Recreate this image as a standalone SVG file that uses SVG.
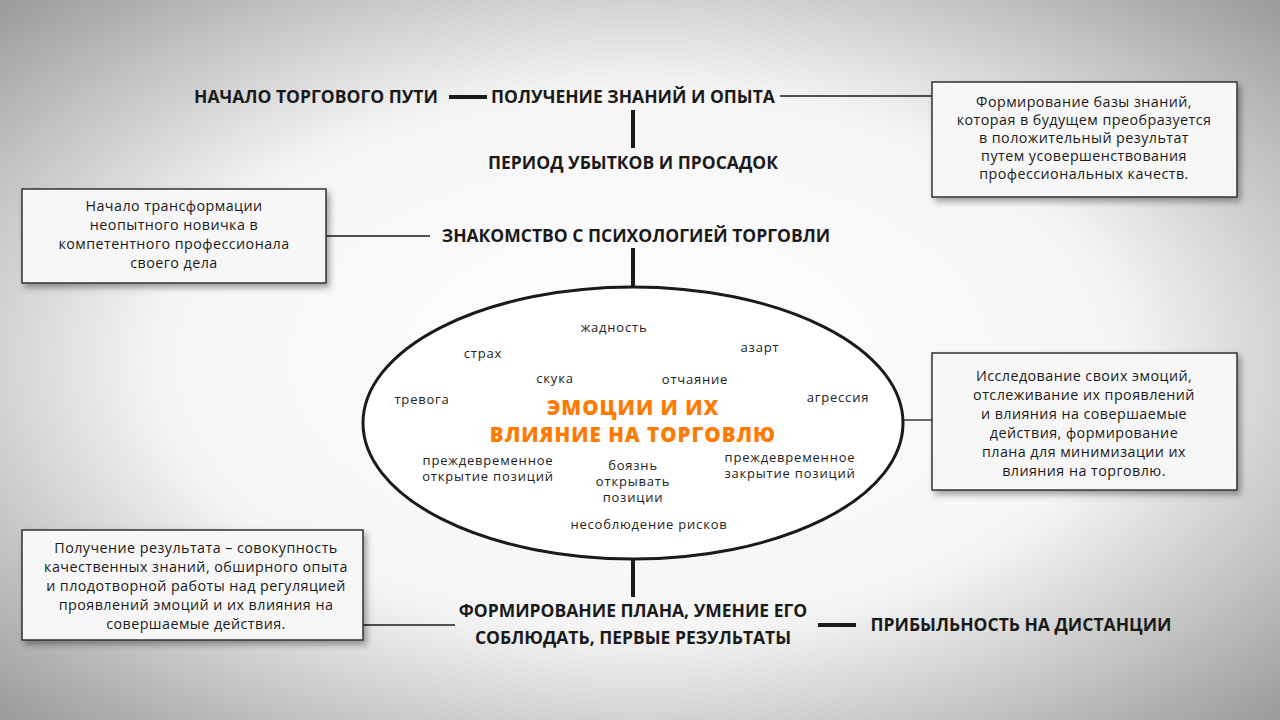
<svg xmlns="http://www.w3.org/2000/svg" width="1280" height="720" viewBox="0 0 1280 720">
<defs>
<radialGradient id="bg" cx="50%" cy="50%" r="75%">
<stop offset="0" stop-color="#ffffff"/><stop offset="0.5" stop-color="#f5f5f5"/><stop offset="1" stop-color="#8e8e8e"/>
</radialGradient>
<filter id="sh" x="-10%" y="-10%" width="130%" height="140%"><feDropShadow dx="3" dy="4" stdDeviation="3" flood-color="#000" flood-opacity="0.35"/></filter>
</defs>
<style>
.h{font-family:"Open Sans","DejaVu Sans",sans-serif;font-weight:700;font-size:17.5px;fill:#1a1a1a;text-anchor:middle}
.b{font-family:"Open Sans","DejaVu Sans",sans-serif;font-size:14.3px;letter-spacing:0.45px;fill:#1a1a1a;text-anchor:middle}
.e{font-family:"Open Sans","DejaVu Sans",sans-serif;font-size:13px;letter-spacing:0.8px;fill:#222;text-anchor:middle}
.o{font-family:"Open Sans","DejaVu Sans",sans-serif;font-weight:800;font-size:20.5px;letter-spacing:1px;fill:#ff7a00;text-anchor:middle}
.box{fill:#f7f7f7;stroke:#333;stroke-width:1.5;filter:url(#sh)}
.thick{stroke:#1a1a1a;stroke-width:4}
.thin{stroke:#1a1a1a;stroke-width:1.3}
</style>
<rect width="1280" height="720" fill="url(#bg)"/>
<g id="connectors" fill="none">
<line class="thick" x1="449" y1="97" x2="487" y2="97"/>
<line class="thin" x1="780" y1="96" x2="932" y2="96"/>
<line class="thick" x1="633" y1="110" x2="633" y2="148"/>
<line class="thin" x1="326" y1="236" x2="430" y2="236"/>
<line class="thick" x1="633" y1="248" x2="633" y2="287"/>
<line class="thin" x1="903" y1="420" x2="932" y2="420"/>
<line class="thick" x1="633" y1="559" x2="633" y2="597"/>
<line class="thin" x1="363" y1="625" x2="455" y2="625"/>
<line class="thick" x1="818" y1="625" x2="856" y2="625"/>
</g>
<g id="n-start"><text class="h" x="316" y="103">НАЧАЛО ТОРГОВОГО ПУТИ</text></g>
<g id="n-knowledge"><text class="h" x="633" y="103">ПОЛУЧЕНИЕ ЗНАНИЙ И ОПЫТА</text></g>
<g id="n-losses"><text class="h" x="633" y="169">ПЕРИОД УБЫТКОВ И ПРОСАДОК</text></g>
<g id="n-psych"><text class="h" x="636" y="242">ЗНАКОМСТВО С ПСИХОЛОГИЕЙ ТОРГОВЛИ</text></g>
<g id="n-plan"><text class="h" x="633" y="617">ФОРМИРОВАНИЕ ПЛАНА, УМЕНИЕ ЕГО</text><text class="h" x="633" y="644">СОБЛЮДАТЬ, ПЕРВЫЕ РЕЗУЛЬТАТЫ</text></g>
<g id="n-profit"><text class="h" x="1021" y="631">ПРИБЫЛЬНОСТЬ НА ДИСТАНЦИИ</text></g>
<g id="box-tr"><rect class="box" x="932" y="82" width="305" height="115"/>
<text class="b" x="1084" y="107">Формирование базы знаний,</text><text class="b" x="1084" y="125">которая в будущем преобразуется</text><text class="b" x="1084" y="143">в положительный результат</text><text class="b" x="1084" y="161">путем усовершенствования</text><text class="b" x="1084" y="179">профессиональных качеств.</text></g>
<g id="box-l"><rect class="box" x="22" y="189" width="304" height="94"/>
<text class="b" x="174" y="211">Начало трансформации</text><text class="b" x="174" y="230">неопытного новичка в</text><text class="b" x="174" y="249">компетентного профессионала</text><text class="b" x="174" y="268">своего дела</text></g>
<g id="box-r"><rect class="box" x="932" y="353" width="305" height="137"/>
<text class="b" x="1084" y="381">Исследование своих эмоций,</text><text class="b" x="1084" y="400">отслеживание их проявлений</text><text class="b" x="1084" y="419">и влияния на совершаемые</text><text class="b" x="1084" y="438">действия, формирование</text><text class="b" x="1084" y="457">плана для минимизации их</text><text class="b" x="1084" y="476">влияния на торговлю.</text></g>
<g id="box-bl"><rect class="box" x="22" y="530" width="341" height="110"/>
<text class="b" x="196" y="553">Получение результата – совокупность</text><text class="b" x="196" y="572">качественных знаний, обширного опыта</text><text class="b" x="196" y="591">и плодотворной работы над регуляцией</text><text class="b" x="196" y="610">проявлений эмоций и их влияния на</text><text class="b" x="196" y="629">совершаемые действия.</text></g>
<g id="emotions">
<ellipse cx="633" cy="423" rx="270" ry="136" fill="#ffffff" stroke="#1a1a1a" stroke-width="3"/>
<text class="e" x="614" y="332">жадность</text>
<text class="e" x="483" y="358">страх</text>
<text class="e" x="760" y="352">азарт</text>
<text class="e" x="555" y="383">скука</text>
<text class="e" x="695" y="384">отчаяние</text>
<text class="e" x="422" y="404">тревога</text>
<text class="e" x="838" y="402">агрессия</text>
<text class="o" x="633" y="415">ЭМОЦИИ И ИХ</text>
<text class="o" x="633" y="442">ВЛИЯНИЕ НА ТОРГОВЛЮ</text>
<text class="e" x="488" y="465">преждевременное</text><text class="e" x="488" y="481">открытие позиций</text>
<text class="e" x="790" y="462">преждевременное</text><text class="e" x="790" y="478">закрытие позиций</text>
<text class="e" x="633" y="470">боязнь</text><text class="e" x="633" y="486">открывать</text><text class="e" x="633" y="502">позиции</text>
<text class="e" x="649" y="529">несоблюдение рисков</text>
</g>
</svg>
